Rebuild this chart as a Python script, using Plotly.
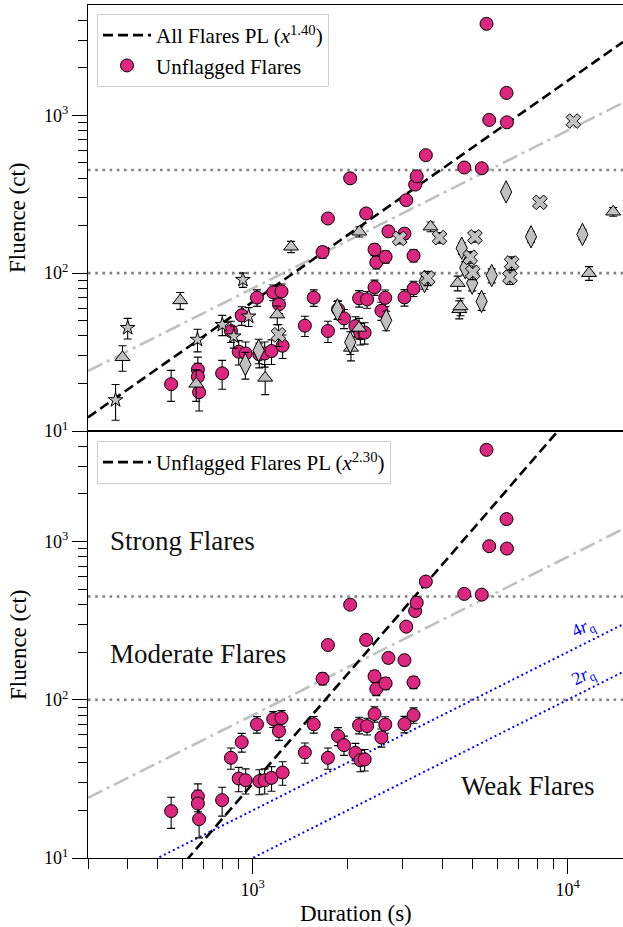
import numpy as np
import plotly.graph_objects as go

# ---------------- data ----------------
unf_dur = [551, 670, 670, 676, 800, 853, 903, 923, 950, 1032,
           1050, 1092, 1148, 1162, 1212, 1235, 1245, 1465, 1563, 1667,
           1734, 1734, 1867, 1950, 2040, 2120, 2178, 2198, 2268, 2293,
           2309, 2438, 2438, 2470, 2564, 2637, 2644, 2699, 3035, 3035,
           3074, 3243, 3243, 3282, 3319, 3548, 4700, 5340, 5530, 5640,
           6400, 6420]
unf_flu = [19.8, 24.5, 22.1, 17.6, 23.2, 43, 31.8, 54, 31, 70,
           30.6, 31, 32.1, 75.5, 63.4, 76.6, 34.7, 46.5, 70, 136,
           222, 43, 59, 51.7, 399, 46.2, 69.2, 41.5, 42, 239,
           68.2, 81.3, 141, 117, 57.8, 69.8, 127, 184, 70.2, 178,
           290, 80, 129, 364, 411, 559, 467, 462, 3800, 935,
           1387, 903]
unf_err = [4.4, 4.9, 4.7, 4.2, 4.8, 6.6, 5.6, 7.3, 5.6, 8.4,
           5.5, 5.6, 5.7, 8.7, 8.0, 8.8, 5.9, 6.8, 8.4, 11.7,
           14.9, 6.6, 7.7, 7.2, 20.0, 6.8, 8.3, 6.4, 6.5, 15.5,
           8.3, 9.0, 11.9, 10.8, 7.6, 8.4, 11.3, 13.6, 8.4, 13.3,
           17.0, 8.9, 11.4, 19.1, 20.3, 23.6, 21.6, 21.5, 61.6, 30.6,
           37.2, 30.0]

star_dur = [367, 401, 668, 801, 871, 931, 971]
star_flu = [15.7, 45, 37.9, 47.1, 39.8, 90.8, 53.2]
star_err = [4.0, 6.7, 6.2, 6.9, 6.3, 9.5, 7.3]

tri_dur = [386, 589, 662, 1096, 1197, 1324, 2052, 2177, 2182, 3673,
           4478, 4530, 4572, 11700, 13960]
tri_flu = [29.3, 67.2, 19.9, 21.7, 54.6, 147, 33.6, 45, 183, 197,
           86.5, 59, 61.5, 100, 245]
tri_err = [5.4, 8.2, 4.5, 4.7, 7.4, 12.1, 5.8, 6.7, 13.5, 14.0,
           9.3, 7.7, 7.8, 10.0, 15.7]

dia_dur = [948, 1045, 1858, 2041, 2655, 3515, 4613, 4733, 4977, 5334,
           5744, 6380, 7656, 11150]
dia_flu = [26.4, 32.4, 58.6, 36.5, 50.3, 88.5, 144, 108, 86.5, 66.2,
           96.6, 327, 170, 176]
dia_err = [5.1, 5.7, 7.7, 6.0, 7.1, 9.4, 12.0, 10.4, 9.3, 8.1,
           9.8, 18.1, 13.0, 13.3]

x_dur = [1208, 2930, 3597, 3921, 4909, 4999, 5080, 6562, 6642, 8170, 10440]
x_flu = [40.7, 166, 93, 168, 126, 101, 170, 94.4, 116, 281, 920]
x_err = [6.4, 12.9, 9.6, 13.0, 11.2, 10.0, 13.0, 9.7, 10.8, 16.8, 30.3]

# fitted / reference relations
all_pl_index, all_pl_norm, all_pl_pivot = 1.40, 12.2, 300.0
unf_pl_index, unf_pl_norm, unf_pl_pivot = 2.30, 10.0, 625.0
quiescent_rate = 0.005          # ct/s  (r_q)
ref_rate = 0.08                 # grey dash-dot reference rate
thresholds = [100, 450]

XMIN, XMAX = 300, 15000
YMIN, YMAX = 10, 5000

# ---------------- styling ----------------
PINK = "#DC267F"
GREY = "#C0C0C0"
FONT = "Liberation Serif"
W, H = 623, 927

xx = np.logspace(np.log10(XMIN), np.log10(XMAX), 300)
edge = [XMIN, XMAX]

fig = go.Figure()


def add_refs(xa, ya):
    for t in thresholds:
        fig.add_trace(go.Scatter(x=edge, y=[t, t], mode="lines", xaxis=xa, yaxis=ya,
                                 line=dict(color="#808080", width=2.6, dash="2.6px,4.6px"),
                                 showlegend=False, hoverinfo="skip"))
    fig.add_trace(go.Scatter(x=xx, y=ref_rate * xx, mode="lines", xaxis=xa, yaxis=ya,
                             line=dict(color=GREY, width=2.6, dash="16px,5px,3px,5px"),
                             showlegend=False, hoverinfo="skip"))


def err(v):
    return dict(type="data", array=v, color="black", thickness=1.1, width=4)


# ---------- top panel ----------
add_refs("x", "y")
fig.add_trace(go.Scatter(x=xx, y=all_pl_norm * (xx / all_pl_pivot) ** all_pl_index,
                         mode="lines", xaxis="x", yaxis="y",
                         line=dict(color="black", width=2.6, dash="10px,5px"),
                         name="All Flares PL (<i>x</i><sup>1.40</sup>)", legend="legend"))
fig.add_trace(go.Scatter(x=unf_dur, y=unf_flu, error_y=err(unf_err), mode="markers",
                         xaxis="x", yaxis="y",
                         marker=dict(color=PINK, size=13, line=dict(color="black", width=1)),
                         name="Unflagged Flares", legend="legend"))
for dur, flu, e, sym, sz in [(star_dur, star_flu, star_err, "star", 11),
                             (tri_dur, tri_flu, tri_err, "triangle-up", 13),
                             (dia_dur, dia_flu, dia_err, "diamond-tall", 16),
                             (x_dur, x_flu, x_err, "x", 13)]:
    fig.add_trace(go.Scatter(x=dur, y=flu, error_y=err(e), mode="markers",
                             xaxis="x", yaxis="y",
                             marker=dict(color=GREY, size=sz, symbol=sym,
                                         line=dict(color="black", width=1)),
                             showlegend=False))

# ---------- bottom panel ----------
add_refs("x2", "y2")
for k in (4, 2):
    fig.add_trace(go.Scatter(x=xx, y=k * quiescent_rate * xx, mode="lines",
                             xaxis="x2", yaxis="y2",
                             line=dict(color="#0000FF", width=2, dash="2px,3px"),
                             showlegend=False, hoverinfo="skip"))
fig.add_trace(go.Scatter(x=xx, y=unf_pl_norm * (xx / unf_pl_pivot) ** unf_pl_index,
                         mode="lines", xaxis="x2", yaxis="y2",
                         line=dict(color="black", width=2.6, dash="10px,5px"),
                         name="Unflagged Flares PL (<i>x</i><sup>2.30</sup>)", legend="legend2"))
fig.add_trace(go.Scatter(x=unf_dur, y=unf_flu, error_y=err(unf_err), mode="markers",
                         xaxis="x2", yaxis="y2",
                         marker=dict(color=PINK, size=13, line=dict(color="black", width=1)),
                         showlegend=False))

# ---------- axes ----------
x_major = [1e3, 1e4]
x_minor = [300, 400, 500, 600, 700, 800, 900] + [2000, 3000, 4000, 5000, 6000, 7000, 8000, 9000]
y_major = [10, 100, 1000]
y_minor = [20, 30, 40, 50, 60, 70, 80, 90, 200, 300, 400, 500, 600, 700, 800, 900, 2000, 3000, 4000]

x_left = 88 / W
top_dom = [1 - 431 / H, 1 - 5 / H]
bot_dom = [1 - 858 / H, 1 - 431 / H]

common_x = dict(type="log", range=[np.log10(XMIN), np.log10(XMAX)], domain=[x_left, 1],
                showline=True, linecolor="black", linewidth=1.3, mirror=True,
                showgrid=False, zeroline=False, automargin=False)
common_y = dict(type="log", range=[np.log10(YMIN), np.log10(YMAX)],
                showline=True, linecolor="black", linewidth=1.3, mirror=False,
                showgrid=False, zeroline=False, automargin=False,
                ticks="outside", ticklen=15, tickwidth=1.2, tickcolor="black",
                tickmode="array", tickvals=y_major,
                ticktext=["10<sup>1</sup>", "10<sup>2</sup>", "10<sup>3</sup>"],
                tickfont=dict(family=FONT, size=18, color="black"),
                minor=dict(ticks="outside", ticklen=9, tickwidth=1, tickcolor="black",
                           tickmode="array", tickvals=y_minor))

fig.update_layout(
    xaxis=dict(**common_x, anchor="y", ticks="", showticklabels=False),
    yaxis=dict(**common_y, domain=top_dom, anchor="x"),
    xaxis2=dict(**common_x, anchor="y2", ticks="outside", ticklen=15, tickwidth=1.2,
                tickcolor="black", tickmode="array", tickvals=x_major,
                ticktext=["10<sup>3</sup>", "10<sup>4</sup>"],
                tickfont=dict(family=FONT, size=18, color="black"),
                minor=dict(ticks="outside", ticklen=10, tickwidth=1, tickcolor="black",
                           tickmode="array", tickvals=x_minor)),
    yaxis2=dict(**common_y, domain=bot_dom, anchor="x2"),
)

legend_style = dict(bgcolor="rgba(255,255,255,0.85)", bordercolor="#D0D0D0", borderwidth=1,
                    font=dict(family=FONT, size=21, color="black"),
                    xanchor="left", yanchor="top", itemwidth=48, tracegroupgap=0)
fig.update_layout(
    width=W, height=H, margin=dict(l=0, r=0, t=0, b=0),
    paper_bgcolor="white", plot_bgcolor="white",
    font=dict(family=FONT, color="black"),
    legend=dict(**legend_style, x=97 / W, y=1 - 14 / H),
    legend2=dict(**legend_style, x=97 / W, y=1 - 441 / H),
)

# ---------- text ----------
ann = []
for yc in [(5 + 431) / 2, (432 + 858) / 2]:
    ann.append(dict(text="Fluence (ct)", x=18 / W, y=1 - yc / H, xref="paper", yref="paper",
                    xanchor="center", yanchor="middle",
                    textangle=-90, showarrow=False, font=dict(family=FONT, size=23)))
ann.append(dict(text="Duration (s)", x=355.5 / W, y=1 - 913 / H, xref="paper", yref="paper",
                xanchor="center", yanchor="middle",
                showarrow=False, font=dict(family=FONT, size=23)))
for txt, xp, yp in [("Strong Flares", 108, 541), ("Moderate Flares", 108, 654),
                    ("Weak Flares", 459, 786)]:
    ann.append(dict(text=txt, x=xp / W, y=1 - yp / H, xref="paper", yref="paper",
                    xanchor="left", yanchor="middle", showarrow=False,
                    font=dict(family=FONT, size=27, color="#111111")))
for lab, k in [("4<i>r</i><sub>q</sub>", 4), ("2<i>r</i><sub>q</sub>", 2)]:
    xl = 4.05
    ann.append(dict(text=lab, x=xl, y=np.log10(k * quiescent_rate * 10 ** xl) + 0.1,
                    xref="x2", yref="y2", showarrow=False, textangle=-26.6,
                    font=dict(family=FONT, size=18, color="#0000FF")))
fig.update_layout(annotations=ann)

fig.write_html("out.html")
